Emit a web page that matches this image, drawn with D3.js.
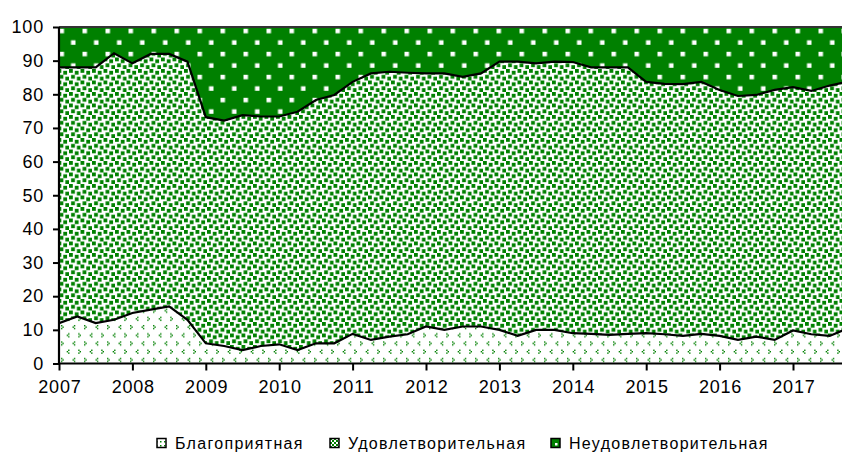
<!DOCTYPE html>
<html><head><meta charset="utf-8">
<script src="https://cdn.jsdelivr.net/npm/d3@7"></script>
<style>
html,body{margin:0;padding:0;background:#fff;}
svg{display:block;}
</style></head>
<body>
<svg id="chart" width="842" height="452"></svg>
<script>
// ---- data (quarterly, starting 2007 Q1) ----
const startYear = 2007;
const seriesNames = ["Благоприятная", "Удовлетворительная", "Неудовлетворительная"];
const favorable = [12,14,12,13,15,16,17,13,6,5.2,4,5.2,5.7,4,6,6,8.8,7,8,8.7,11,10,11,11,10,8.2,10,10,9,8.8,8.5,8.8,9,8.7,8.2,8.8,8.2,7,8,7,9.8,8.7,8.2,10.5];
const satisfactory = [76,74,76,79.2,74.2,76,75,76.7,67.2,67,69.8,68.2,67.7,70.8,72.3,73.8,74.9,79.2,78.7,77.7,75.2,76.2,74.2,75.2,79.7,81.5,79.2,79.7,80.6,79.2,79.5,79.2,74.7,74.4,74.8,74.9,73.1,72.5,71.8,74.3,72.3,72.3,74.4,73.3];
const unsatisfactory = [12,12,12,7.8,10.8,8,8,10.3,26.8,27.8,26.2,26.6,26.6,25.2,21.7,20.2,16.3,13.8,13.3,13.6,13.8,13.8,14.8,13.8,10.3,10.3,10.8,10.3,10.4,12,12,12,16.3,16.9,17,16.3,18.7,20.5,20.2,18.7,17.9,19,17.4,16.2];
const yTicks = [0,10,20,30,40,50,60,70,80,90,100];
const xTicks = [2007,2008,2009,2010,2011,2012,2013,2014,2015,2016,2017];

const rows = favorable.map((v,i)=>({t: startYear + i*0.25, fav: v, sat: satisfactory[i], uns: unsatisfactory[i]}));

const svg = d3.select("#chart");
const x = d3.scaleLinear().domain([2007, 2017]).range([59, 793]);
const y = d3.scaleLinear().domain([0, 100]).range([363.5, 27]);
const green = "#008000";

// ---- patterns ----
const defs = svg.append("defs");
// Unsatisfactory: solid green with white squares
const p3 = defs.append("pattern").attr("id","pUns").attr("patternUnits","userSpaceOnUse")
  .attr("width",23).attr("height",23).attr("x",59.5).attr("y",28.8);
p3.append("rect").attr("width",23).attr("height",23).attr("fill",green);
p3.append("rect").attr("x",0).attr("y",0).attr("width",4.5).attr("height",4.5).attr("fill","#fff");
p3.append("rect").attr("x",11.5).attr("y",11.5).attr("width",4.5).attr("height",4.5).attr("fill","#fff");
// Satisfactory: white with dense green confetti squares
const p2 = defs.append("pattern").attr("id","pSat").attr("patternUnits","userSpaceOnUse")
  .attr("width",11.5).attr("height",11.5).attr("x",0).attr("y",0);
p2.append("rect").attr("width",11.5).attr("height",11.5).attr("fill","#fff");
[[0,0],[5.8,1.8],[2.1,5.9],[7.9,7.7]].forEach(([a,b])=>{
  p2.append("rect").attr("x",a).attr("y",b).attr("width",3.8).attr("height",3.8).attr("fill",green);
});
// Favorable: white with sparse small chevrons
const p1 = defs.append("pattern").attr("id","pFav").attr("patternUnits","userSpaceOnUse")
  .attr("width",23).attr("height",16.4).attr("x",60).attr("y",324);
p1.append("rect").attr("width",23).attr("height",16.4).attr("fill","#fff");
const blk = 1.4;
function chevron(px, py, right){
  const cells = right ? [[0,0],[1,1],[0,2]] : [[1,0],[0,1],[1,2]];
  cells.forEach(([a,b])=>p1.append("rect").attr("x",px+a*blk).attr("y",py+b*blk)
    .attr("width",blk).attr("height",blk).attr("fill",green));
}
chevron(1,1,true); chevron(12.5,1,false); chevron(6.7,9.2,false); chevron(18.2,9.2,true);

// clip to plot area
defs.append("clipPath").attr("id","clip").append("rect")
  .attr("x",59).attr("y",20).attr("width",800).attr("height",343.5);

const stack = d3.stack().keys(["fav","sat","uns"]);
const layers = stack(rows);
const fills = ["url(#pFav)","url(#pSat)","url(#pUns)"];

const area = d3.area().x(d=>x(d.data.t)).y0(d=>y(d[0])).y1(d=>y(d[1]));
const line = d3.line().x(d=>x(d.data.t)).y(d=>y(d[1]));

const g = svg.append("g").attr("clip-path","url(#clip)");
g.selectAll("path.area").data(layers).join("path").attr("class","area")
  .attr("d",area).attr("fill",(d,i)=>fills[i]);
g.selectAll("path.ln").data(layers).join("path").attr("class","ln")
  .attr("d",line).attr("fill","none")
  .attr("stroke",(d,i)=> i===2 ? "#333" : "#000")
  .attr("stroke-width",(d,i)=> i===2 ? 2 : 2.2);

// ---- axes ----
const fontFam = "'Liberation Sans', Arial, sans-serif";
const yAxis = svg.append("g").attr("transform","translate(59,0)")
  .call(d3.axisLeft(y).tickValues(yTicks).tickSize(6).tickPadding(9).tickFormat(d3.format("d")));
const xAxis = svg.append("g").attr("transform","translate(0,363.5)")
  .call(d3.axisBottom(x).tickValues(xTicks).tickSize(7).tickPadding(10).tickFormat(d3.format("d")));
[yAxis,xAxis].forEach(a=>{
  a.select(".domain").attr("stroke","#000").attr("stroke-width",2.2);
  a.selectAll(".tick line").attr("stroke","#000").attr("stroke-width",2);
  a.selectAll(".tick text").attr("fill","#000").style("font-family",fontFam)
    .style("font-size","18px").style("letter-spacing","0.8px");
});
xAxis.selectAll(".tick text").attr("dx","0.4px");
xAxis.select(".domain").attr("d","M59,0H842");
yAxis.select(".domain").attr("d","M0,363.5V27");

// ---- legend ----
const legendItems = [
  {name: seriesNames[0], fill: "url(#pFavL)", mx: 157, tx: 175},
  {name: seriesNames[1], fill: "url(#pSatL)", mx: 330, tx: 348},
  {name: seriesNames[2], fill: "url(#pUnsL)", mx: 551, tx: 569}
];
// small legend swatch patterns
const l1 = defs.append("pattern").attr("id","pFavL").attr("patternUnits","userSpaceOnUse").attr("width",4).attr("height",4);
l1.append("rect").attr("width",4).attr("height",4).attr("fill","#fff");
l1.append("rect").attr("x",0).attr("y",1).attr("width",1.5).attr("height",1.5).attr("fill",green);
const l2 = defs.append("pattern").attr("id","pSatL").attr("patternUnits","userSpaceOnUse").attr("width",4).attr("height",4);
l2.append("rect").attr("width",4).attr("height",4).attr("fill","#fff");
l2.append("rect").attr("x",0).attr("y",0).attr("width",2).attr("height",2).attr("fill",green);
l2.append("rect").attr("x",2).attr("y",2).attr("width",2).attr("height",2).attr("fill",green);
const l3 = defs.append("pattern").attr("id","pUnsL").attr("patternUnits","userSpaceOnUse").attr("width",8).attr("height",8);
l3.append("rect").attr("width",8).attr("height",8).attr("fill",green);
l3.append("rect").attr("x",3).attr("y",3).attr("width",2.5).attr("height",2.5).attr("fill","#fff");

const lg = svg.append("g");
legendItems.forEach(it=>{
  lg.append("rect").attr("x",it.mx).attr("y",438.5).attr("width",9).attr("height",9)
    .attr("fill",it.fill).attr("stroke","#000").attr("stroke-width",1.5);
  lg.append("text").attr("x",it.tx).attr("y",449).text(it.name)
    .style("font-family",fontFam).style("font-size","16px").style("letter-spacing","1.3px").attr("fill","#000");
});
</script>
</body></html>
